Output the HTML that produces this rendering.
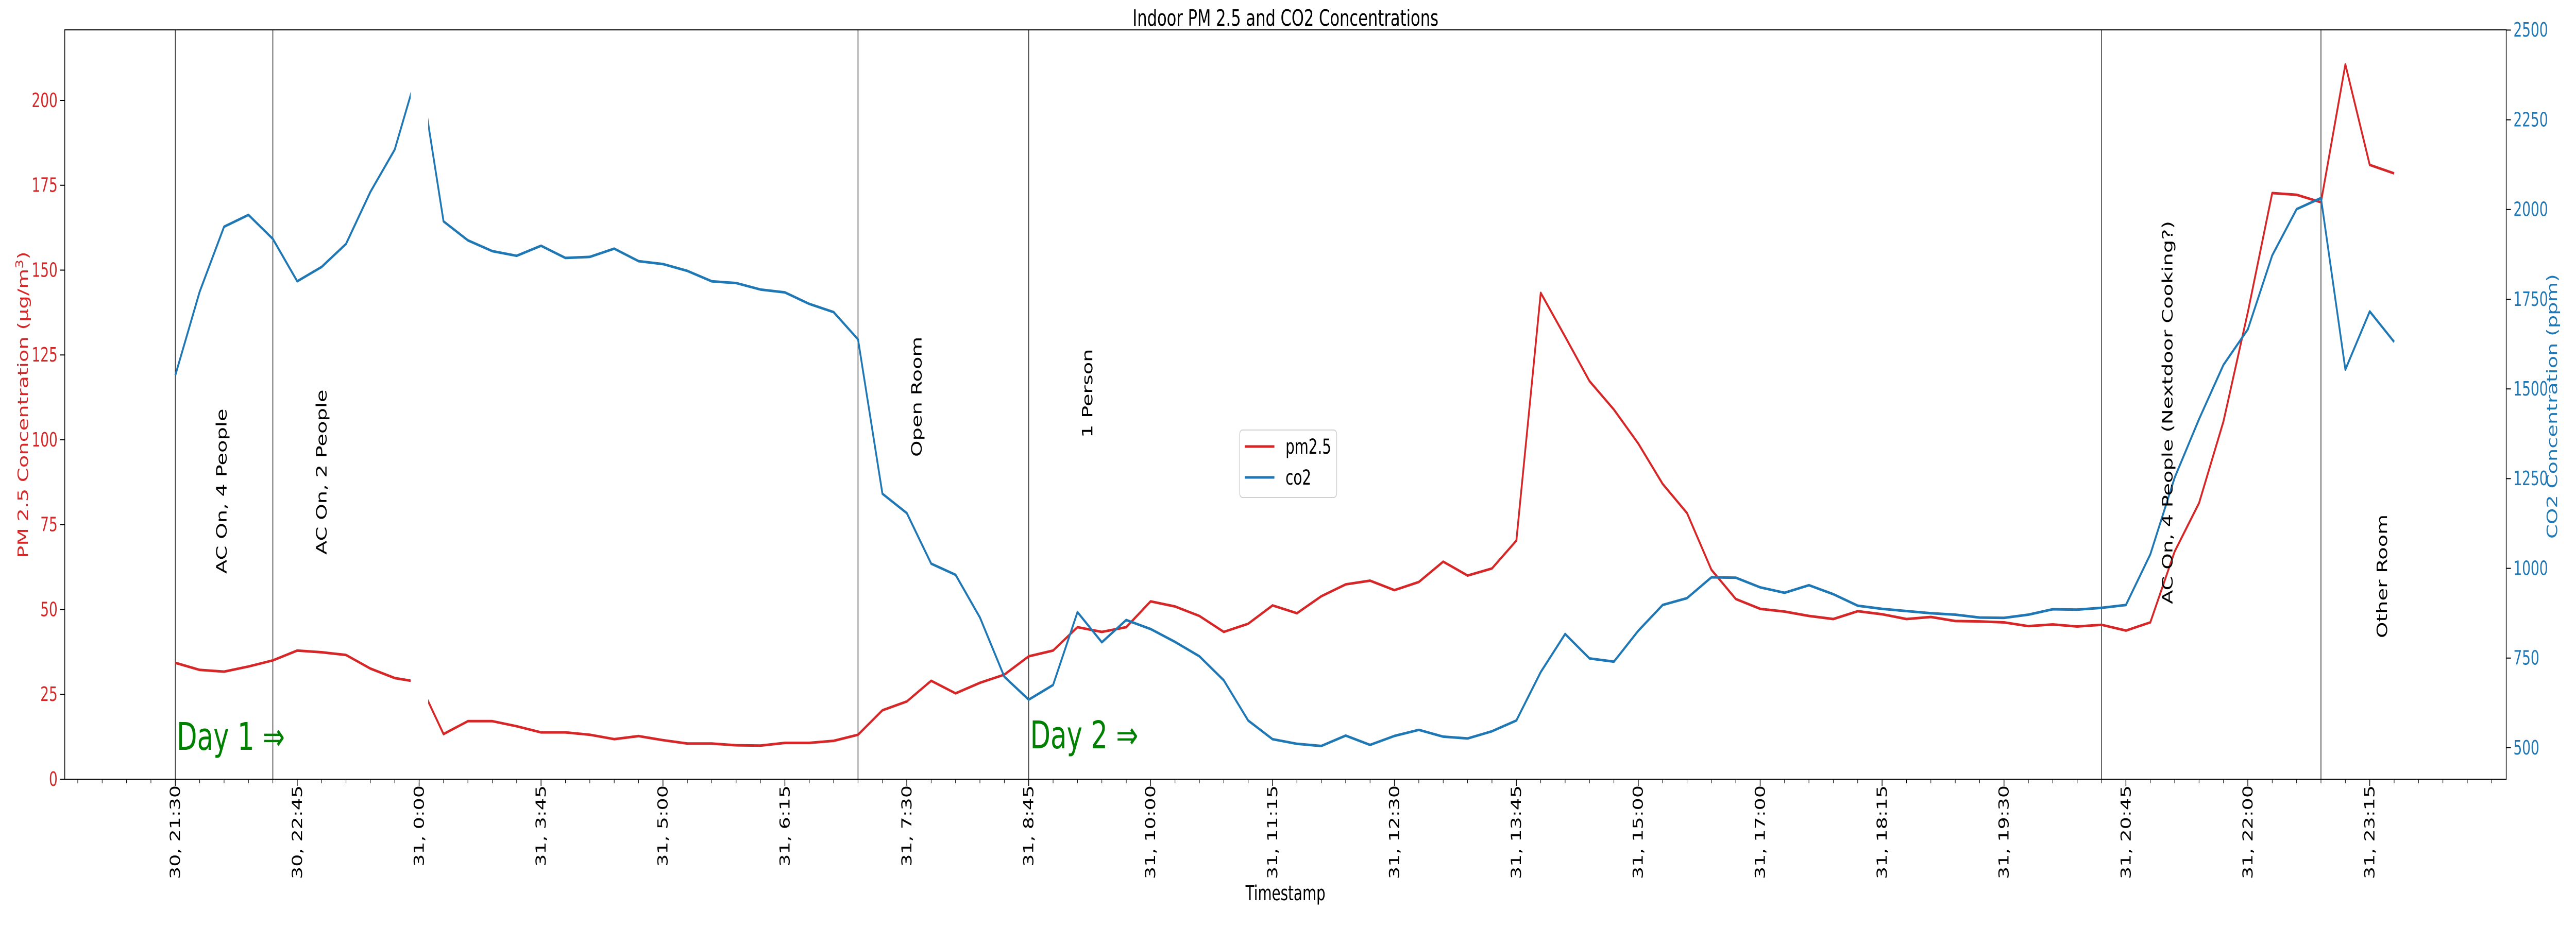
<!DOCTYPE html>
<html><head><meta charset="utf-8"><meta name="viewport" content="width=7200, height=1800, initial-scale=1">
<style>
html,body{margin:0;padding:0;background:#fff;width:100%;height:100%;overflow:hidden;}
svg{display:block;width:100vw;height:100vh;font-family:"DejaVu Sans","Liberation Sans",sans-serif;}
</style></head><body>
<svg id="chart" viewBox="0 0 7200 1800" preserveAspectRatio="none" xmlns="http://www.w3.org/2000/svg">
<rect x="0" y="0" width="7200" height="1800" fill="#fff"/>
<g id="lines"></g>
<g id="overlay"></g>
</svg>
<script>
const xLabels = ["30, 21:30","30, 22:45","31, 0:00","31, 3:45","31, 5:00","31, 6:15","31, 7:30","31, 8:45","31, 10:00","31, 11:15","31, 12:30","31, 13:45","31, 15:00","31, 17:00","31, 18:15","31, 19:30","31, 20:45","31, 22:00","31, 23:15"];
const pmValues = [34.3,32.2,31.7,33.2,35.0,37.9,37.4,36.6,32.6,29.8,28.6,13.3,17.1,17.1,15.6,13.8,13.8,13.1,11.8,12.7,11.5,10.5,10.5,10.0,9.9,10.7,10.7,11.3,13.1,20.3,22.9,29.0,25.3,28.4,30.8,36.2,37.9,44.8,43.4,44.8,52.4,50.9,48.1,43.4,45.8,51.2,48.9,53.9,57.4,58.5,55.7,58.1,64.1,60.0,62.1,70.3,143.3,130.4,117.3,108.9,98.9,87.0,78.4,61.7,53.1,50.2,49.4,48.1,47.2,49.5,48.6,47.2,47.8,46.6,46.5,46.2,45.1,45.6,45.0,45.5,43.8,46.2,67.1,81.4,105.4,137.6,172.7,172.2,170.0,210.6,181.0,178.5];
const co2Values = [1538,1771,1952,1985,1918,1800,1840,1904,2049,2167,2400,1967,1914,1884,1871,1899,1865,1868,1891,1856,1848,1829,1800,1795,1777,1769,1737,1714,1638,1208,1154,1013,982,863,698,634,675,878,794,856,831,795,755,688,576,524,511,505,534,508,533,550,531,526,546,576,711,817,749,740,826,898,917,975,974,947,932,953,928,896,887,881,875,871,863,862,871,886,885,890,898,1039,1253,1416,1567,1666,1872,2001,2032,1554,1716,1631];
const pmTicks = [0,25,50,75,100,125,150,175,200];
const co2Ticks = [500,750,1000,1250,1500,1750,2000,2250,2500];
const eventIdx = [0,4,28,35,79,88];
const annoText = ["AC On, 4 People","AC On, 2 People","Open Room","1 Person","AC On, 4 People (Nextdoor Cooking?)","Other Room"];
const annoIdx = [2.1,6.2,30.6,37.6,81.9,90.7];
const annoBottom = [1114,1077,887,850,1173,1239];
const gapRange = [9.65,10.37];

const L=181,R=7005,T=58,B=1513;
const x = i => 490 + i*68.15;
const yPm = v => B - v*6.59;
const yCo2 = v => 1452 - (v-500)*0.6968;
const NS="http://www.w3.org/2000/svg";
const svg=document.getElementById('chart');
const lines=document.getElementById('lines');
const ov=document.getElementById('overlay');
function mk(tag,attrs,parent){const e=document.createElementNS(NS,tag);for(const k in attrs)e.setAttribute(k,attrs[k]);(parent||svg).appendChild(e);return e;}

eventIdx.forEach((i,k)=>{
  const l=mk('line',{x1:x(i),x2:x(i),y1:T,y2:B,stroke:'#3a3a3a','stroke-width':2.2},lines);
  
  
});

function pathOf(vals,fy){return vals.map((v,i)=>(i?'L':'M')+x(i).toFixed(1)+','+fy(v).toFixed(1)).join(' ');}
const pmPath=mk('path',{d:pathOf(pmValues,yPm),fill:'none',stroke:'#d62728','stroke-width':5,'stroke-linejoin':'round'},lines);


const co2Path=mk('path',{d:pathOf(co2Values,yCo2),fill:'none',stroke:'#1f77b4','stroke-width':5,'stroke-linejoin':'round'},lines);


const gap=mk('rect',{x:x(gapRange[0]),y:T+2,width:x(gapRange[1])-x(gapRange[0]),height:B-T-4,fill:'#fff'},lines);



annoText.forEach((t,k)=>{
  const bx=x(annoIdx[k]);
  const e=mk('text',{transform:`translate(${bx},${annoBottom[k]}) rotate(-90)`,'font-size':40,fill:'#000'},ov);
  e.textContent=t;
  
  
});
const d1=mk('text',{x:x(0)+4,y:1456,'font-size':74,fill:'#008000'},ov);d1.textContent='Day 1 \u21D2';


const d2=mk('text',{x:x(35)+4,y:1453,'font-size':74,fill:'#008000'},ov);d2.textContent='Day 2 \u21D2';



const fr=mk('rect',{x:L,y:T,width:R-L,height:B-T,fill:'none',stroke:'#000','stroke-width':2},ov);



for(let i=-4;i<=95;i++){
  const major=(i%5===0)&&i>=0&&i<=90;
  const t=mk('line',{x1:x(i),x2:x(i),y1:B,y2:B+(major?13:8),stroke:'#000','stroke-width':major?2:1.5},ov);
  
  
}
xLabels.forEach((s,k)=>{
  const i=k*5;
  const e=mk('text',{transform:`translate(${x(i)},1525) rotate(-90)`,'font-size':38,'text-anchor':'end','dominant-baseline':'central',fill:'#000'},ov);
  e.textContent=s;
  
  
});
const xt=mk('text',{x:3593,y:1748,'font-size':40,'text-anchor':'middle',fill:'#000'},ov);xt.textContent='Timestamp';



pmTicks.forEach(v=>{
  const t=mk('line',{x1:L-13,x2:L,y1:yPm(v),y2:yPm(v),stroke:'#000','stroke-width':2},ov);
  
  
  const e=mk('text',{x:L-20,y:yPm(v),'font-size':38,'text-anchor':'end','dominant-baseline':'central',fill:'#d62728'},ov);
  e.textContent=v;
  
  
});
const yl=mk('text',{transform:'translate(78,786) rotate(-90)','font-size':40,'text-anchor':'middle',fill:'#d62728'},ov);
yl.innerHTML='PM 2.5 Concentration (\u03BCg/m<tspan dy="-14" font-size="28">3</tspan><tspan dy="14">)</tspan>';



co2Ticks.forEach(v=>{
  const t=mk('line',{x1:R,x2:R+13,y1:yCo2(v),y2:yCo2(v),stroke:'#000','stroke-width':2},ov);
  
  
  const e=mk('text',{x:R+20,y:yCo2(v),'font-size':38,'text-anchor':'start','dominant-baseline':'central',fill:'#1f77b4'},ov);
  e.textContent=v;
  
  
});
const yr=mk('text',{transform:'translate(7147,789) rotate(-90)','font-size':40,'text-anchor':'middle',fill:'#1f77b4'},ov);
yr.textContent='CO2 Concentration (ppm)';



const ti=mk('text',{x:3593,y:50,'font-size':44,'text-anchor':'middle',fill:'#000'},ov);
ti.textContent='Indoor PM 2.5 and CO2 Concentrations';



const lg=mk('g',{},ov);


mk('rect',{x:3465,y:835,width:271,height:131,rx:8,fill:'#fff','fill-opacity':0.8,stroke:'#d0d0d0','stroke-width':2},lg);
const le1=mk('line',{x1:3479,x2:3562,y1:867,y2:867,stroke:'#d62728','stroke-width':5},lg);


const lt1=mk('text',{x:3593,y:881,'font-size':40,fill:'#000'},lg);lt1.textContent='pm2.5';


const le2=mk('line',{x1:3479,x2:3562,y1:927,y2:927,stroke:'#1f77b4','stroke-width':5},lg);


const lt2=mk('text',{x:3593,y:941,'font-size':40,fill:'#000'},lg);lt2.textContent='co2';


</script>
</body></html>
